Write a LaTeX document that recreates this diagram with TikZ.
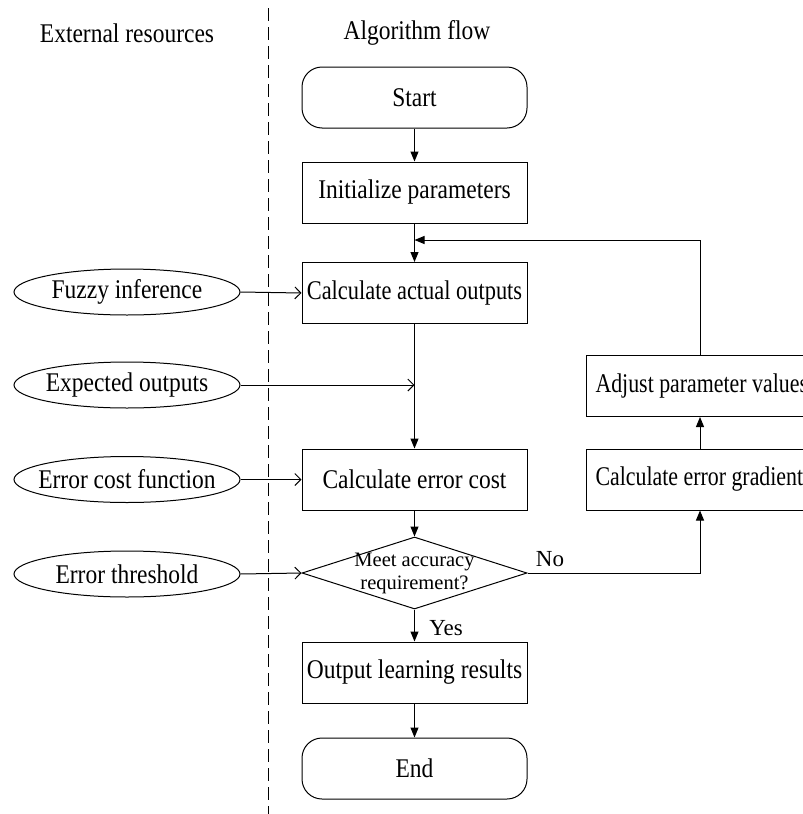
\documentclass[tikz,border=0pt]{standalone}
\usepackage{fontspec}
\setmainfont{Liberation Serif}
\newfontfamily\tnr[FakeStretch=0.87]{Liberation Serif}
\newfontfamily\tnrn[FakeStretch=0.83]{Liberation Serif}
\newfontfamily\tnrs[FakeStretch=0.81]{Liberation Serif}
\newfontfamily\tnrp{Liberation Serif}
\usetikzlibrary{arrows.meta,shapes.geometric}
\begin{document}
\begin{tikzpicture}[x=1pt,y=-1pt,
  every node/.style={font=\tnr\fontsize{27}{30}\selectfont},
  proc/.style={draw, line width=1pt, minimum width=225pt, minimum height=61pt, inner sep=0pt},
  term/.style={proc, rounded corners=20pt},
  sidebox/.style={draw, line width=1pt, minimum height=61pt, inner ysep=0pt, inner xsep=9pt, anchor=west, font=\tnrs\fontsize{27}{30}\selectfont},
  res/.style={draw, ellipse, line width=1pt, minimum width=226pt, minimum height=46pt, inner sep=0pt},
  dec/.style={draw, diamond, line width=1pt, minimum width=225pt, minimum height=72pt, inner sep=0pt},
  small/.style={font=\tnrp\fontsize{23}{25}\selectfont},
  flow/.style={line width=1pt, -{Triangle[length=10pt,width=8pt]}},
  feed/.style={line width=1pt, -{Straight Barb[length=6pt,width=12pt]}},
  sep/.style={line width=1pt, dash pattern=on 13pt off 6pt},
]
\useasboundingbox (0,0) rectangle (803,814);
\clip (0,0) rectangle (803,814);

% headers
\node (hext) at (127,33) {External resources};
\node (halg) at (417,33) {Algorithm flow};
\coordinate (st) at (268,8);
\coordinate (sb) at (268,814);
\draw[sep] (st) -- (sb);

% main flow
\node[term] (start) at (414.5,97.5) {Start};
\node[proc] (init) at (414.5,192.5) {Initialize parameters};
\node[proc, font=\tnrn\fontsize{27}{30}\selectfont] (act) at (414.5,293) {Calculate actual outputs};
\node[proc] (cost) at (414.5,479.5) {Calculate error cost};
\node[dec] (dia) at (414.5,573) {};
\node[font=\tnrp\fontsize{20.5}{23}\selectfont, align=center] (diat) at (414.5,573) {Meet accuracy\\requirement?};
\node[proc] (out) at (414.5,672.5) {Output learning results};
\node[term] (end) at (414.5,768.5) {End};

% right side
\node[sidebox] (adj) at (586,386) {\makebox[232pt][l]{Adjust parameter values}};
\node[sidebox] (grad) at (586,479.5) {\makebox[232pt][l]{Calculate error gradient}};
\coordinate (cx) at (700,0);

% resources
\node[res] (fuzzy) at (127,292) {\makebox[0pt]{Fuzzy inference}};
\node[res] (expd) at (127,385) {\makebox[0pt]{Expected outputs}};
\node[res] (ecf) at (127,479.5) {\makebox[0pt]{Error cost function}};
\node[res] (thr) at (127,574) {\makebox[0pt]{Error threshold}};

\coordinate (j1) at (414.5,240);
\coordinate (j2) at (414.5,385);

% connectors
\draw[flow] (start) -- (init);
\draw[flow] (init) -- (act);
\draw[flow] (act) -- (cost);
\draw[flow] (cost) -- (dia);
\draw[flow] (dia) -- (out);
\draw[flow] (out) -- (end);
\draw[flow] (grad.north -| cx) -- (adj.south -| cx);
\draw[flow] (adj.north -| cx) |- (j1);
\draw[flow] (dia.east) -| (grad.south -| cx);

\draw[feed] (fuzzy.east) -- (act.west);
\draw[feed] (expd.east) -- (j2);
\draw[feed] (ecf.east) -- (cost.west);
\draw[feed] (thr.east) -- (dia.west);

\node[small] (no) at (550,559) {No};
\node[small] (yes) at (446,628) {Yes};
\end{tikzpicture}
\end{document}
